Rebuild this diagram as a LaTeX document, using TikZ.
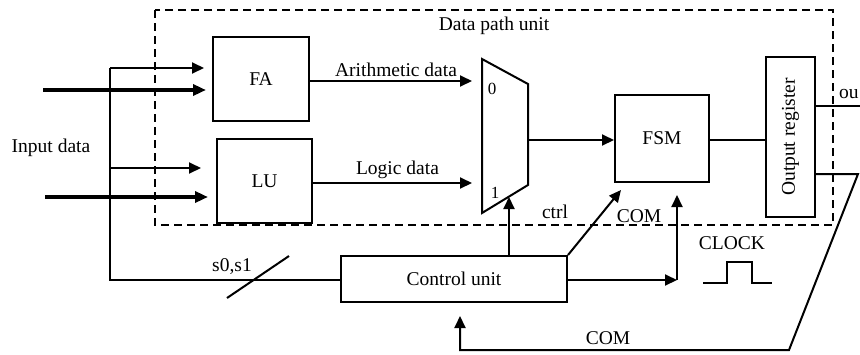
\documentclass[tikz,border=0pt]{standalone}
\usepackage{fontspec}
\setmainfont{Liberation Serif}
\usepackage{tikz}
\usetikzlibrary{calc,arrows.meta,positioning}

\begin{document}
\begin{tikzpicture}[x=1pt,y=-1pt,line width=2pt,font=\fontsize{19.5}{21}\selectfont]

\tikzset{block/.style={draw,line width=2pt,inner sep=0pt,shape=rectangle},
thinarrow/.style={-{Triangle[length=12pt,width=11pt]}},
thickarrow/.style={line width=4.5pt,-{Triangle[length=13pt,width=11pt]}},
digit/.style={font=\fontsize{17}{19}\selectfont}}

\useasboundingbox (0,0) rectangle (860,354);

% Data path unit frame
\draw[line width=2.2pt,dash pattern=on 8pt off 5pt] (155,10) rectangle (833,225);
\node (dpu) at (494,26) {Data path unit};

% blocks
\node[block,minimum width=96pt,minimum height=84pt] (fa) at (261,79) {FA};
\node[block,minimum width=95pt,minimum height=84pt] (lu) at (264.5,181) {LU};
\node[block,minimum width=94pt,minimum height=87pt] (fsm) at (662,138.5) {FSM};
\node[block,minimum width=49pt,minimum height=160pt] (outreg) at (790.5,137) {};
\node[rotate=90] (outlabel) at (outreg.center) {Output register};
\node[block,minimum width=226pt,minimum height=46pt] (cu) at (454,279) {Control unit};

% multiplexer
\coordinate (mtl) at (482,59); \coordinate (mtr) at (528,84);
\coordinate (mbr) at (528,185); \coordinate (mbl) at (482,213);
\draw (mtl) -- (mtr) -- (mbr) -- (mbl) -- cycle;
\node[digit] (m0) at (492,89) {0};
\node[digit] (m1) at (495,193) {1};
\coordinate (mout) at (528,140);

% Inputs
\node (indata) at (51,148) {Input data};
\coordinate (inA) at (43,90); \coordinate (inL) at (45,197);
\coordinate (bus) at (110,68); \coordinate (busL) at (110,168); \coordinate (busB) at (110,280);
\draw[thickarrow,shorten >=6pt] (inA) -- (inA -| fa.west);
\draw[thickarrow,shorten >=8pt] (inL) -- (inL -| lu.west);
\draw[thinarrow,shorten >=8pt] (bus) -- (bus -| fa.west);
\draw[thinarrow,shorten >=15pt] (busL) -- (busL -| lu.west);
\draw (bus) -- (busB) -- (busB -| cu.west);

% s0,s1 bus mark
\coordinate (sla) at (227,298); \coordinate (slb) at (289,256);
\draw (sla) -- (slb);
\node (sel) at (232,267) {s0,s1};

% Edges
\draw[thinarrow,shorten >=10pt] ($(fa.east)+(0,2)$) -- ($(fa.east -| mtl)+(0,2)$) node[midway,above=0pt] (arith) {Arithmetic data};
\draw[thinarrow,shorten >=10pt] ($(lu.east)+(0,2)$) -- ($(lu.east -| mtl)+(0,2)$) node[midway,above=0pt] (logic) {Logic data};
\draw[thinarrow] (mout) -- (mout -| fsm.west);
\draw ($(fsm.east)+(0,1.5)$) -- ($(fsm.east -| outreg.west)+(0,1.5)$);

% output
\coordinate (outR) at (860,106);
\draw ($(outreg.east)+(0,-31)$) -- (outR);
\node[anchor=east,inner sep=0pt] (outtext) at (859.5,94) {ou};

% control signals
\coordinate (ctrlx) at (509,197);
\draw[thinarrow] (ctrlx |- cu.north) -- (ctrlx);
\node (ctrl) at (555,212) {ctrl};
\coordinate (fsmcom) at (621,190);
\draw[thinarrow] (cu.north east) -- (fsmcom);
\node (com1) at (639,216) {COM};
\coordinate (cuout) at (677,280); \coordinate (cuup) at (677,195);
\draw[thinarrow] (cu.east |- cuout) -- (cuout);
\draw[thinarrow] (cuout) -- (cuup);

% clock
\node (clock) at (732,243) {CLOCK};
\draw (703,283) -- (727,283) -- (727,262) -- (752,262) -- (752,283) -- (772,283);

% feedback
\coordinate (fb1) at (858,174); \coordinate (fb2) at (789,350); \coordinate (fb3) at (460,350);
\draw[thinarrow,shorten >=13pt] ($(outreg.east)+(0,37)$) -- (fb1) -- (fb2) -- (fb3) -- (fb3 |- cu.south);
\node (com2) at (608,338) {COM};

\end{tikzpicture}
\end{document}
